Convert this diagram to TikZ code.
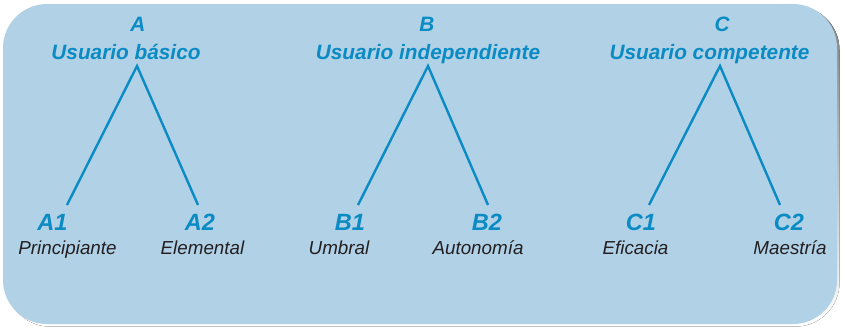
\documentclass[tikz,border=0pt]{standalone}
\usepackage{fontspec}
\setmainfont{Liberation Sans}
\definecolor{boxfill}{HTML}{B1D1E7}
\definecolor{txtblue}{HTML}{0A8BC3}
\definecolor{shade}{HTML}{231F20}
\begin{document}
\begin{tikzpicture}[x=1pt,y=-1pt,
  head/.style={text=txtblue,font=\fontsize{20.8}{23}\selectfont\bfseries\itshape,anchor=base,inner sep=0pt},
  level/.style={text=txtblue,font=\fontsize{23.5}{26}\selectfont\bfseries\itshape,anchor=base,inner sep=0pt},
  desc/.style={text=shade,font=\fontsize{18.8}{21}\selectfont\itshape,anchor=base,inner sep=0pt},
  branch/.style={draw=txtblue,line width=2.4pt}]
\useasboundingbox (0,0) rectangle (842,327);
% box with shadow
\fill[shade,rounded corners=44pt] (6,6) rectangle (839.5,326.5);
\fill[boxfill,rounded corners=44pt] (3,4) rectangle (837,324);
% A
\node[head] (A) at (138,31) {A};
\node[head] (Atit) at (126,59) {Usuario básico};
\coordinate (Aap) at (137,66);
\coordinate (A1e) at (67,205);
\coordinate (A2e) at (198,205);
\node[level] (A1) at (52.5,230) {A1};
\node[level] (A2) at (200,230) {A2};
\node[desc] (A1d) at (67.5,254) {Principiante};
\node[desc] (A2d) at (202.5,254) {Elemental};
\draw[branch] (A1e) -- (Aap) -- (A2e);
% B
\node[head] (B) at (427,31) {B};
\node[head] (Btit) at (428,59) {Usuario independiente};
\coordinate (Bap) at (428,66);
\coordinate (B1e) at (358,205);
\coordinate (B2e) at (488,205);
\node[level] (B1) at (350,230) {B1};
\node[level] (B2) at (487,230) {B2};
\node[desc] (B1d) at (339,254) {Umbral};
\node[desc] (B2d) at (478,254) {Autonomía};
\draw[branch] (B1e) -- (Bap) -- (B2e);
% C
\node[head] (C) at (722,31) {C};
\node[head] (Ctit) at (709.5,59) {Usuario competente};
\coordinate (Cap) at (720,66);
\coordinate (C1e) at (649,205);
\coordinate (C2e) at (780,205);
\node[level] (C1) at (641,230) {C1};
\node[level] (C2) at (789,230) {C2};
\node[desc] (C1d) at (635.5,254) {Eficacia};
\node[desc] (C2d) at (790,254) {Maestría};
\draw[branch] (C1e) -- (Cap) -- (C2e);
\end{tikzpicture}
\end{document}
